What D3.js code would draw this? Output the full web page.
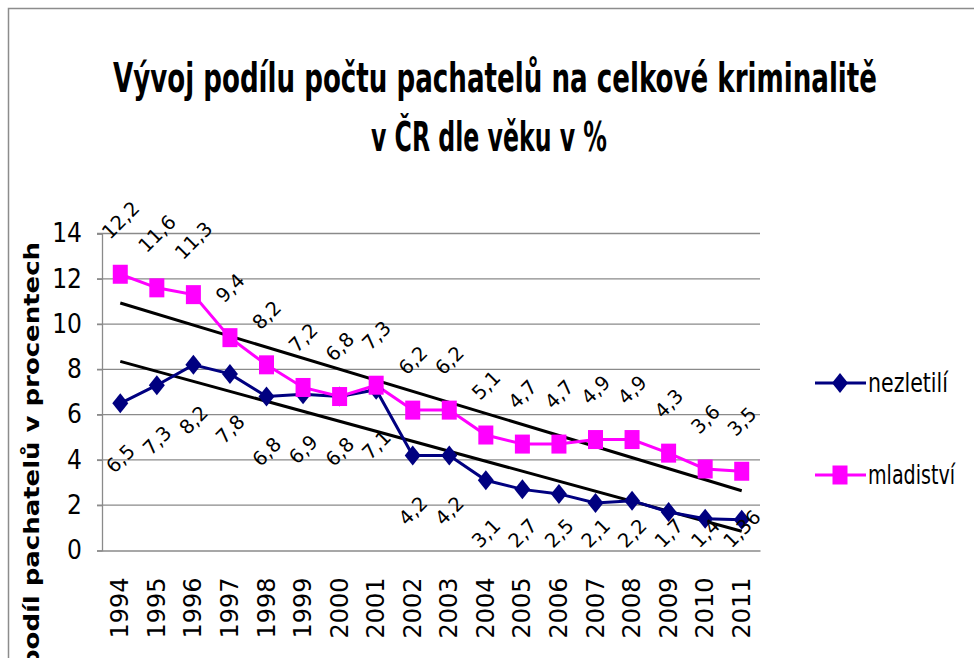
<!DOCTYPE html>
<html><head><meta charset="utf-8">
<script src="https://cdn.jsdelivr.net/npm/d3@7/dist/d3.min.js"></script>
<style>body{margin:0;background:#fff}svg{display:block}</style>
</head><body><svg id="c" width="974" height="658"></svg>
<script>
const years = ["1994","1995","1996","1997","1998","1999","2000","2001","2002","2003","2004","2005","2006","2007","2008","2009","2010","2011"];
const nezletili = [6.5,7.3,8.2,7.8,6.8,6.9,6.8,7.1,4.2,4.2,3.1,2.7,2.5,2.1,2.2,1.7,1.4,1.36];
const mladistvi = [12.2,11.6,11.3,9.4,8.2,7.2,6.8,7.3,6.2,6.2,5.1,4.7,4.7,4.9,4.9,4.3,3.6,3.5];
const seriesNames = ["nezletilí","mladiství"];
const yTicks = [0,2,4,6,8,10,12,14];
const titleLines = ["Vývoj podílu počtu pachatelů na celkové kriminalitě","v ČR dle věku v %"];
const yAxisTitle = "podíl pachatelů v procentech";

const NAVY = "#000080", MAG = "#FF00FF", GRID = "#8a8a8a";
const NARROW = "'Liberation Sans Narrow','DejaVu Sans Condensed',sans-serif";
const VERD = "'DejaVu Sans',Verdana,sans-serif";

const svg = d3.select("#c");
svg.append("rect").attr("x",8.5).attr("y",8.5).attr("width",1200).attr("height",1200)
  .attr("fill","#fff").attr("stroke","#8c8c8c").attr("stroke-width",1.5);

const x = d3.scaleBand().domain(years).range([102,760]).padding(0);
const cx = d => x(d) + x.bandwidth()/2;
const y = d3.scaleLinear().domain([0,14]).range([550.5,233.5]);

// title
svg.append("g").selectAll("text").data(titleLines).join("text")
  .attr("x",(d,i)=> i===0 ? 495 : 489).attr("y",(d,i)=> 92 + i*59)
  .attr("text-anchor","middle").attr("font-family",NARROW).attr("font-weight","bold")
  .attr("font-size",41).attr("fill","#000")
  .attr("textLength",(d,i)=> i===0 ? 764 : 236).attr("lengthAdjust","spacingAndGlyphs")
  .text(d=>d);

// gridlines
svg.append("g").selectAll("line").data(yTicks.filter(t=>t>0)).join("line")
  .attr("x1",97).attr("x2",760).attr("y1",d=>y(d)).attr("y2",d=>y(d))
  .attr("stroke",GRID).attr("stroke-width",1.3);

// y axis
const yAxis = svg.append("g").attr("transform","translate(102,0)")
  .call(d3.axisLeft(y).tickValues(yTicks).tickSize(5).tickPadding(15).tickFormat(d=>d));
yAxis.select(".domain").attr("stroke",GRID).attr("stroke-width",1.3);
yAxis.selectAll(".tick line").attr("stroke",GRID).attr("stroke-width",1.3);
yAxis.selectAll(".tick text").attr("font-family",NARROW).attr("font-size",26).attr("fill","#000");

// x axis
const xAxis = svg.append("g").attr("transform","translate(0,550.5)")
  .call(d3.axisBottom(x).tickSize(0).tickPadding(0));
xAxis.select(".domain").attr("stroke",GRID).attr("stroke-width",1.3);
xAxis.selectAll(".tick text").attr("font-family",VERD).attr("font-size",24).attr("fill","#000")
  .attr("text-anchor","end").attr("dy",0)
  .attr("transform","translate(8,27) rotate(-90)");

// y axis title
svg.append("text").attr("transform","translate(39,455) rotate(-90)")
  .attr("text-anchor","middle").attr("font-family",VERD).attr("font-weight","bold")
  .attr("font-size",22).attr("textLength",426).attr("lengthAdjust","spacingAndGlyphs")
  .text(yAxisTitle);

// trend lines (least squares)
function trend(vals){
  const n = vals.length, xs = vals.map((v,i)=>i+1);
  const mx = d3.mean(xs), my = d3.mean(vals);
  let sxy=0,sxx=0; xs.forEach((xv,i)=>{sxy+=(xv-mx)*(vals[i]-my); sxx+=(xv-mx)**2;});
  const b = sxy/sxx, a = my - b*mx;
  return [a+b*1, a+b*n];
}
[mladistvi, nezletili].forEach(vals=>{
  const t = trend(vals);
  svg.append("line").attr("x1",cx(years[0])).attr("x2",cx(years[years.length-1]))
    .attr("y1",y(t[0])).attr("y2",y(t[1])).attr("stroke","#000").attr("stroke-width",3);
});

const line = d3.line().x((d,i)=>cx(years[i])).y(d=>y(d));
svg.append("path").datum(nezletili).attr("d",line).attr("fill","none").attr("stroke",NAVY).attr("stroke-width",3);
svg.append("path").datum(mladistvi).attr("d",line).attr("fill","none").attr("stroke",MAG).attr("stroke-width",3);

const diamond = "M0,-10L8,0L0,10L-8,0Z";
svg.append("g").selectAll("path").data(nezletili).join("path")
  .attr("d",diamond).attr("transform",(d,i)=>`translate(${cx(years[i])},${y(d)})`).attr("fill",NAVY);
svg.append("g").selectAll("rect").data(mladistvi).join("rect")
  .attr("x",(d,i)=>cx(years[i])-7.5).attr("y",d=>y(d)-9.5).attr("width",15).attr("height",19).attr("fill",MAG);

// data labels
const fmt = v => String(v).replace(".",",");
const LFS = 19.5, CAP = LFS*0.73*0.7071;
function labels(vals, above){
  const g = svg.append("g");
  vals.forEach((v,i)=>{
    const t = g.append("text").attr("font-family",VERD).attr("font-size",LFS).attr("fill","#000").text(fmt(v));
    const w = t.node().getComputedTextLength()*0.7071;
    const px = cx(years[i]), py = y(v);
    const tx = px - (w - CAP)/2;
    let ty;
    if(above){ ty = py - 34; }
    else {
      let top = py + 39;
      const h = w + CAP;
      if(top + h > 549) top = 549 - h;
      ty = top + h;
    }
    t.attr("transform",`translate(${tx},${ty}) rotate(-45)`);
  });
}
labels(mladistvi,true);
labels(nezletili,false);

// legend
const leg = svg.append("g");
[[NAVY,383,"d",80],[MAG,475,"s",87]].forEach((c,i)=>{
  leg.append("line").attr("x1",815).attr("x2",866).attr("y1",c[1]).attr("y2",c[1]).attr("stroke",c[0]).attr("stroke-width",3);
  if(c[2]==="d") leg.append("path").attr("d",diamond).attr("transform",`translate(840,${c[1]})`).attr("fill",c[0]);
  else leg.append("rect").attr("x",832.5).attr("y",c[1]-9.5).attr("width",15).attr("height",19).attr("fill",c[0]);
  leg.append("text").attr("x",868).attr("y",c[1]).attr("dy","0.35em").attr("font-family",NARROW)
    .attr("font-size",26).attr("fill","#000").attr("textLength",c[3]).attr("lengthAdjust","spacingAndGlyphs")
    .text(seriesNames[i]);
});
</script></body></html>
